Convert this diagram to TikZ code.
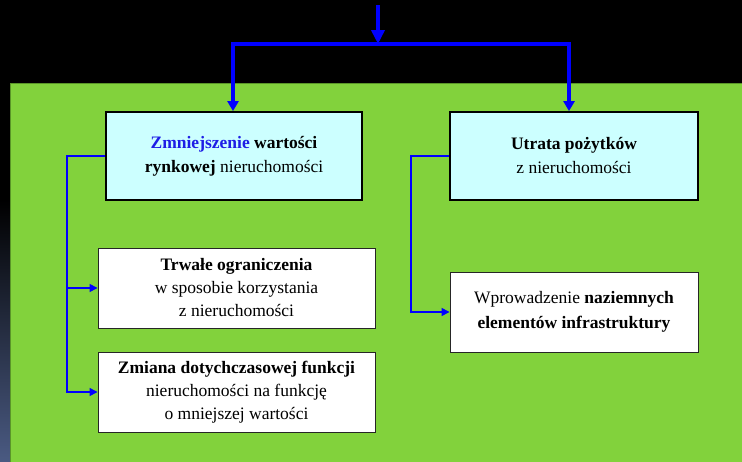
\documentclass[tikz,border=0pt]{standalone}
\usepackage{fontspec}
\setmainfont{Liberation Serif}
\usetikzlibrary{arrows.meta,positioning}
\definecolor{bggreen}{RGB}{130,210,60}
\definecolor{edgegreen}{RGB}{90,150,40}
\definecolor{boxcyan}{RGB}{204,255,255}
\definecolor{stripblue}{RGB}{74,90,130}
\definecolor{linkblue}{RGB}{0,0,255}
\definecolor{wordblue}{RGB}{30,30,230}
\begin{document}
\begin{tikzpicture}[x=1pt,y=-1pt,
  mainbox/.style={draw=black,line width=1.8pt,fill=boxcyan,minimum height=88pt,
    align=center,inner sep=0pt,font=\fontsize{17.5}{24}\selectfont},
  subbox/.style={draw=black!85,line width=0.9pt,fill=white,minimum height=80pt,
    align=center,inner sep=0pt,font=\fontsize{17.5}{23}\selectfont},
  thick link/.style={draw=linkblue,line width=4pt},
  thin link/.style={draw=linkblue,line width=1.4pt,-{Triangle[length=8pt,width=8pt]}}]
\useasboundingbox (0,0) rectangle (742,461);
% backgrounds
\fill[black] (0,0) rectangle (742,461);
\shade[top color=black,bottom color=stripblue] (0,200) rectangle (10,461);
\fill[bggreen,draw=edgegreen,line width=1pt] (10.5,83.5) rectangle (745,465);
% boxes
\node[mainbox,minimum width=256pt] (zm) at (234,156)
  {\textbf{\textcolor{wordblue}{Zmniejszenie}} \textbf{wartości}\\ \textbf{rynkowej} nieruchomości};
\node[mainbox,minimum width=248pt] (ut) at (574,156)
  {\textbf{Utrata pożytków}\\ z nieruchomości};
\node[subbox,minimum width=277pt] (tr) at (236.5,288)
  {\textbf{Trwałe ograniczenia}\\ w sposobie korzystania\\ z nieruchomości};
\node[subbox,minimum width=277pt] (zf) at (236.5,392)
  {\textbf{Zmiana dotychczasowej funkcji}\\ nieruchomości na funkcję\\ o mniejszej wartości};
\node[subbox,minimum width=248pt,font=\fontsize{17.5}{24.5}\selectfont] (wp) at (574,312)
  {\raisebox{-2pt}{Wprowadzenie \textbf{naziemnych}}\\ \raisebox{-2pt}{\textbf{elementów infrastruktury}}};
% top connectors
\coordinate (src) at (378,5);
\coordinate (mid) at (378,44);
\coordinate (bl) at (233,44);
\coordinate (br) at (569,44);
\draw[thick link,-{Triangle[length=14pt,width=13pt]}] (src) -- (mid);
\draw[thick link,line cap=rect] (bl) -- (br);
\draw[thick link,-{Triangle[length=10pt,width=11pt]}] (bl) -- (bl |- zm.north);
\draw[thick link,-{Triangle[length=10pt,width=11pt]}] (br) -- (br |- ut.north);
% side connectors
\coordinate (lx) at (67,0);
\coordinate (rx) at (411,0);
\draw[thin link] (zm.west) -| (lx |- tr.west) -- (tr.west);
\draw[thin link] (lx |- tr.west) -- (lx |- zf.west) -- (zf.west);
\draw[thin link] (ut.west) -| (rx |- wp.west) -- (wp.west);
\end{tikzpicture}
\end{document}
